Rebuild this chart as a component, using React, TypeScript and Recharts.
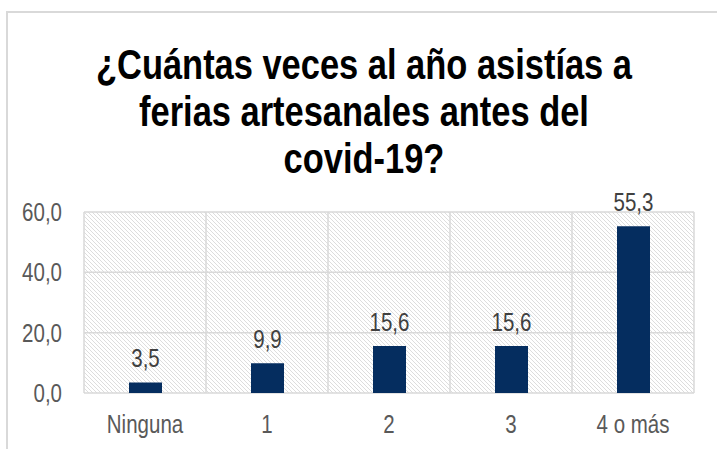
import React from "react";
import { BarChart, Bar, XAxis, YAxis, CartesianGrid, LabelList } from "recharts";

const categories = ["Ninguna", "1", "2", "3", "4 o más"];
const values = [3.5, 9.9, 15.6, 15.6, 55.3];
const yTicks = [0, 20, 40, 60];
const titleLines = [
  "¿Cuántas veces al año asistías a",
  "ferias artesanales antes del",
  "covid-19?",
];

const data = categories.map((c, i) => ({ name: c, value: values[i] }));

const FONT = "'Liberation Sans', Arial, sans-serif";
const NARROW = 0.82;
const AXIS_SIZE = 25;
const fmt = (v: any) => Number(v).toFixed(1).replace(".", ",");

const XTick = (props: any) => {
  const { x, y, payload } = props;
  return (
    <text
      transform={`translate(${x},${y}) scale(${NARROW},1)`}
      x={0}
      y={0}
      dy="0.71em"
      textAnchor="middle"
      fill="#595959"
      fontSize={AXIS_SIZE}
      fontFamily={FONT}
    >
      {payload.value}
    </text>
  );
};

const YTick = (props: any) => {
  const { x, y, payload } = props;
  return (
    <text
      transform={`translate(${x},${y}) scale(${NARROW},1)`}
      x={0}
      y={0}
      dy="0.355em"
      textAnchor="end"
      fill="#595959"
      fontSize={AXIS_SIZE}
      fontFamily={FONT}
    >
      {fmt(payload.value)}
    </text>
  );
};

const BarLabel = (props: any) => {
  const { x, y, width, value } = props;
  const cx = Number(x) + Number(width) / 2;
  const cy = Number(y) - 15;
  return (
    <text
      transform={`translate(${cx},${cy}) scale(${NARROW},1)`}
      x={0}
      y={0}
      textAnchor="middle"
      fill="#404040"
      fontSize={AXIS_SIZE}
      fontFamily={FONT}
    >
      {fmt(value)}
    </text>
  );
};

export default function App() {
  return (
    <div style={{ position: "absolute", left: 0, top: 0, width: 717, height: 449, background: "#fff", overflow: "hidden" }}>
      <svg width={0} height={0} style={{ position: "absolute" }}>
        <defs>
          <pattern id="hatch" patternUnits="userSpaceOnUse" width={4} height={4}>
            <rect x={0} y={0} width={4} height={4} fill="#ffffff" />
            <path d="M0,0 L4,4 M-1,3 L1,5 M3,-1 L5,1" stroke="#d2d2d2" strokeWidth={0.75} />
          </pattern>
        </defs>
      </svg>
      <div
        style={{
          position: "absolute",
          left: 6,
          top: 11,
          width: 720,
          height: 445,
          borderLeft: "2px solid #d9d9d9",
          borderTop: "2px solid #d9d9d9",
          boxSizing: "border-box",
        }}
      />
      <div
        style={{
          position: "absolute",
          left: 0,
          top: 41,
          width: 728,
          textAlign: "center",
          fontFamily: FONT,
          fontWeight: "bold",
          fontSize: 42,
          lineHeight: "47px",
          color: "#000",
          transform: `scaleX(${NARROW})`,
          transformOrigin: "364px 0",
          whiteSpace: "nowrap",
        }}
      >
        {titleLines.map((l, i) => (
          <div key={i}>{l}</div>
        ))}
      </div>
      <div style={{ position: "absolute", left: 0, top: 0 }}>
        <BarChart
          width={717}
          height={449}
          data={data}
          margin={{ top: 212, right: 23, bottom: 0, left: 0 }}
        >
          <CartesianGrid
            stroke="#d9d9d9"
            strokeWidth={1.5}
            fill="url(#hatch)"
            verticalCoordinatesGenerator={({ offset }: any) =>
              Array.from({ length: categories.length + 1 }, (_, i) => offset.left + (i * offset.width) / categories.length)
            }
          />
          <XAxis
            dataKey="name"
            height={56}
            axisLine={false}
            tickLine={false}
            tickSize={0}
            tickMargin={22}
            tick={<XTick />}
          />
          <YAxis
            width={84}
            domain={[0, 60]}
            ticks={yTicks}
            axisLine={false}
            tickLine={false}
            tickSize={0}
            tickMargin={22}
            tick={<YTick />}
          />
          <Bar dataKey="value" fill="#052d5f" barSize={33} isAnimationActive={false}>
            <LabelList dataKey="value" content={<BarLabel />} />
          </Bar>
        </BarChart>
      </div>
    </div>
  );
}
